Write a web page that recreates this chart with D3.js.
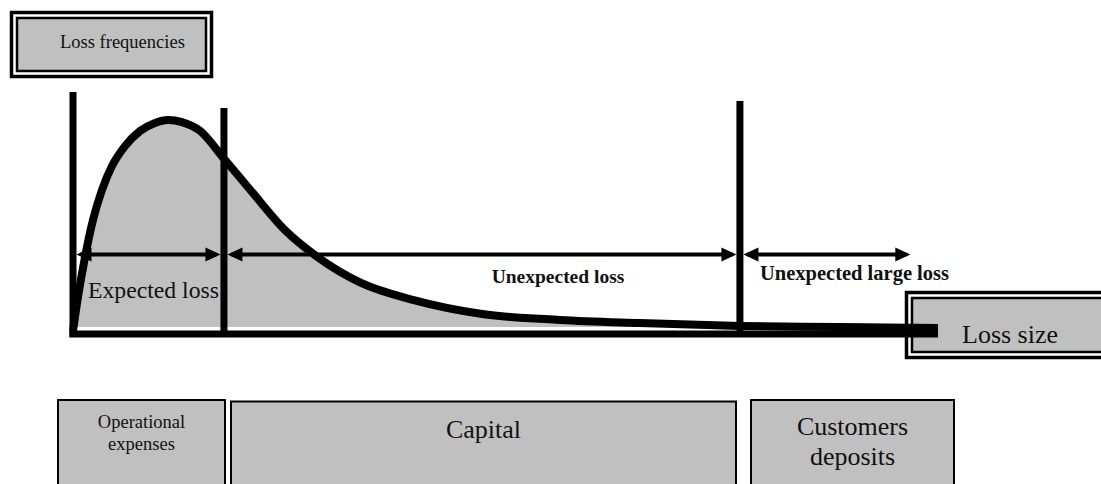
<!DOCTYPE html>
<html lang="en">
<head>
  <meta charset="UTF-8">
  <title>Loss distribution</title>
  <script src="https://d3js.org/d3.v7.min.js"></script>
  <style>
    body
    {
      margin: 0;
      background: #fff;
    }
    svg
    {
      font-family: "Liberation Serif", "Times New Roman", serif;
      display: block;
    }
  </style>
</head>
<body>
  <svg width="1101" height="484"></svg>
  <script>
    // loss size (0..100) vs loss frequency (peak = 100)
    const lossSize = [0, 0.58, 1.39, 2.31, 3.35, 4.51, 6.01, 7.75, 9.48, 10.98, 12.6, 14.7, 17.3, 20.5, 24.6, 28.1, 33.3, 39.4, 47.3, 56.3, 65.5, 77.1, 88.7, 100];
    const frequency = [-1.9, 14.5, 33.8, 51.7, 66.2, 77.8, 87.4, 94.7, 98.6, 100, 99.0, 94.7, 82.1, 66.2, 46.4, 34.3, 21.3, 13.0, 6.3, 3.4, 1.9, 0.5, 0, -0.5];

    // zone limits on the loss axis and the height of each limit line
    const limits = [17.45, 77.1];
    const limitTops = [105.8, 109.2];
    const axisTop = 113.5;
    const arrowEnd = 96.8;
    const arrowLevel = 34.3;

    const zoneLabels = ["Expected loss", "Unexpected loss", "Unexpected large loss"];
    const coverLabels = [["Operational", "expenses"], ["Capital"], ["Customers", "deposits"]];

    const gray = "#c0c0c0";
    const svg = d3.select("svg");

    const x = d3.scaleLinear().domain([0, 100]).range([73, 938]);
    const y = d3.scaleLinear().domain([0, 100]).range([327, 120]);

    const points = lossSize.map((d, i) => ({ u: d, v: frequency[i] }));

    // double-bordered label box
    function doubleBox(bx, by, bw, bh, label, tx, ty, size)
    {
      svg.append("rect")
        .attr("x", bx).attr("y", by).attr("width", bw).attr("height", bh)
        .attr("fill", "#fff").attr("stroke", "#000").attr("stroke-width", 3.5);
      svg.append("rect")
        .attr("x", bx + 5.5).attr("y", by + 5.5).attr("width", bw - 11).attr("height", bh - 11)
        .attr("fill", gray).attr("stroke", "#000").attr("stroke-width", 2.5);
      svg.append("text")
        .attr("x", tx).attr("y", ty)
        .attr("font-size", size)
        .attr("fill", "#111")
        .text(label);
    }

    doubleBox(11.5, 12.5, 200, 64, "Loss frequencies", 60, 48, 18.5);
    doubleBox(906.5, 292.5, 230, 65, "Loss size", 962, 343, 26);

    // area under the curve
    svg.append("path")
      .datum(points)
      .attr("fill", gray)
      .attr("d", d3.area().x(d => x(d.u)).y0(y(0)).y1(d => y(d.v)).curve(d3.curveMonotoneX));

    // y axis and zone limits
    svg.append("line")
      .attr("x1", x(0)).attr("x2", x(0))
      .attr("y1", y(axisTop)).attr("y2", 337)
      .attr("stroke", "#000").attr("stroke-width", 7);

    svg.selectAll(".limit")
      .data(limits)
      .join("line")
      .attr("class", "limit")
      .attr("x1", d => x(d)).attr("x2", d => x(d))
      .attr("y1", (d, i) => y(limitTops[i])).attr("y2", 335)
      .attr("stroke", "#000").attr("stroke-width", 7);

    // double arrows for each zone
    const bounds = [0].concat(limits, [arrowEnd]);
    const ay = y(arrowLevel) - 1.5;
    const head = 15, half = 7;
    for (let i = 0; i < 3; i++)
    {
      const x1 = x(bounds[i]) + 3.5;
      const x2 = i === 2 ? x(bounds[i + 1]) : x(bounds[i + 1]) - 3.5;
      svg.append("line")
        .attr("x1", x1 + 4).attr("x2", x2 - 4)
        .attr("y1", ay).attr("y2", ay)
        .attr("stroke", "#000").attr("stroke-width", 4);
      svg.append("path")
        .attr("d", `M${x1},${ay}L${x1 + head},${ay - half}L${x1 + head},${ay + half}Z`)
        .attr("fill", "#000");
      svg.append("path")
        .attr("d", `M${x2},${ay}L${x2 - head},${ay - half}L${x2 - head},${ay + half}Z`)
        .attr("fill", "#000");
    }

    // curve
    svg.append("path")
      .datum(points)
      .attr("fill", "none")
      .attr("stroke", "#000")
      .attr("stroke-width", 8)
      .attr("stroke-linejoin", "round")
      .attr("d", d3.line().x(d => x(d.u)).y(d => y(d.v)).curve(d3.curveMonotoneX));

    // x axis
    svg.append("line")
      .attr("x1", x(0) - 3.5).attr("x2", x(100))
      .attr("y1", 334).attr("y2", 334)
      .attr("stroke", "#000").attr("stroke-width", 7);

    // zone labels
    svg.append("text")
      .attr("x", 88).attr("y", 298)
      .attr("font-size", 23.5).attr("fill", "#111")
      .attr("textLength", 131).attr("lengthAdjust", "spacingAndGlyphs")
      .text(zoneLabels[0]);
    svg.append("text")
      .attr("x", 558).attr("y", 283)
      .attr("text-anchor", "middle")
      .attr("font-size", 19.5).attr("font-weight", "bold").attr("fill", "#111")
      .text(zoneLabels[1]);
    svg.append("text")
      .attr("x", 760).attr("y", 280)
      .attr("font-size", 20.5).attr("font-weight", "bold").attr("fill", "#111")
      .text(zoneLabels[2]);

    // boxes below: what covers each kind of loss
    const covers = [
      { x0: 58, x1: 225, top: 400, size: 18.5, base: 428, step: 22 },
      { x0: 231, x1: 736, top: 401.5, size: 26, base: 438, step: 30 },
      { x0: 751, x1: 954, top: 400, size: 26, base: 435, step: 30 }
    ];
    covers.forEach((c, i) => {
      svg.append("rect")
        .attr("x", c.x0).attr("y", c.top)
        .attr("width", c.x1 - c.x0).attr("height", 120)
        .attr("fill", gray).attr("stroke", "#000").attr("stroke-width", 2);
      const t = svg.append("text")
        .attr("text-anchor", "middle")
        .attr("font-size", c.size).attr("fill", "#111");
      coverLabels[i].forEach((line, j) => {
        t.append("tspan")
          .attr("x", (c.x0 + c.x1) / 2)
          .attr("y", c.base + j * c.step)
          .text(line);
      });
    });
  </script>
</body>
</html>
